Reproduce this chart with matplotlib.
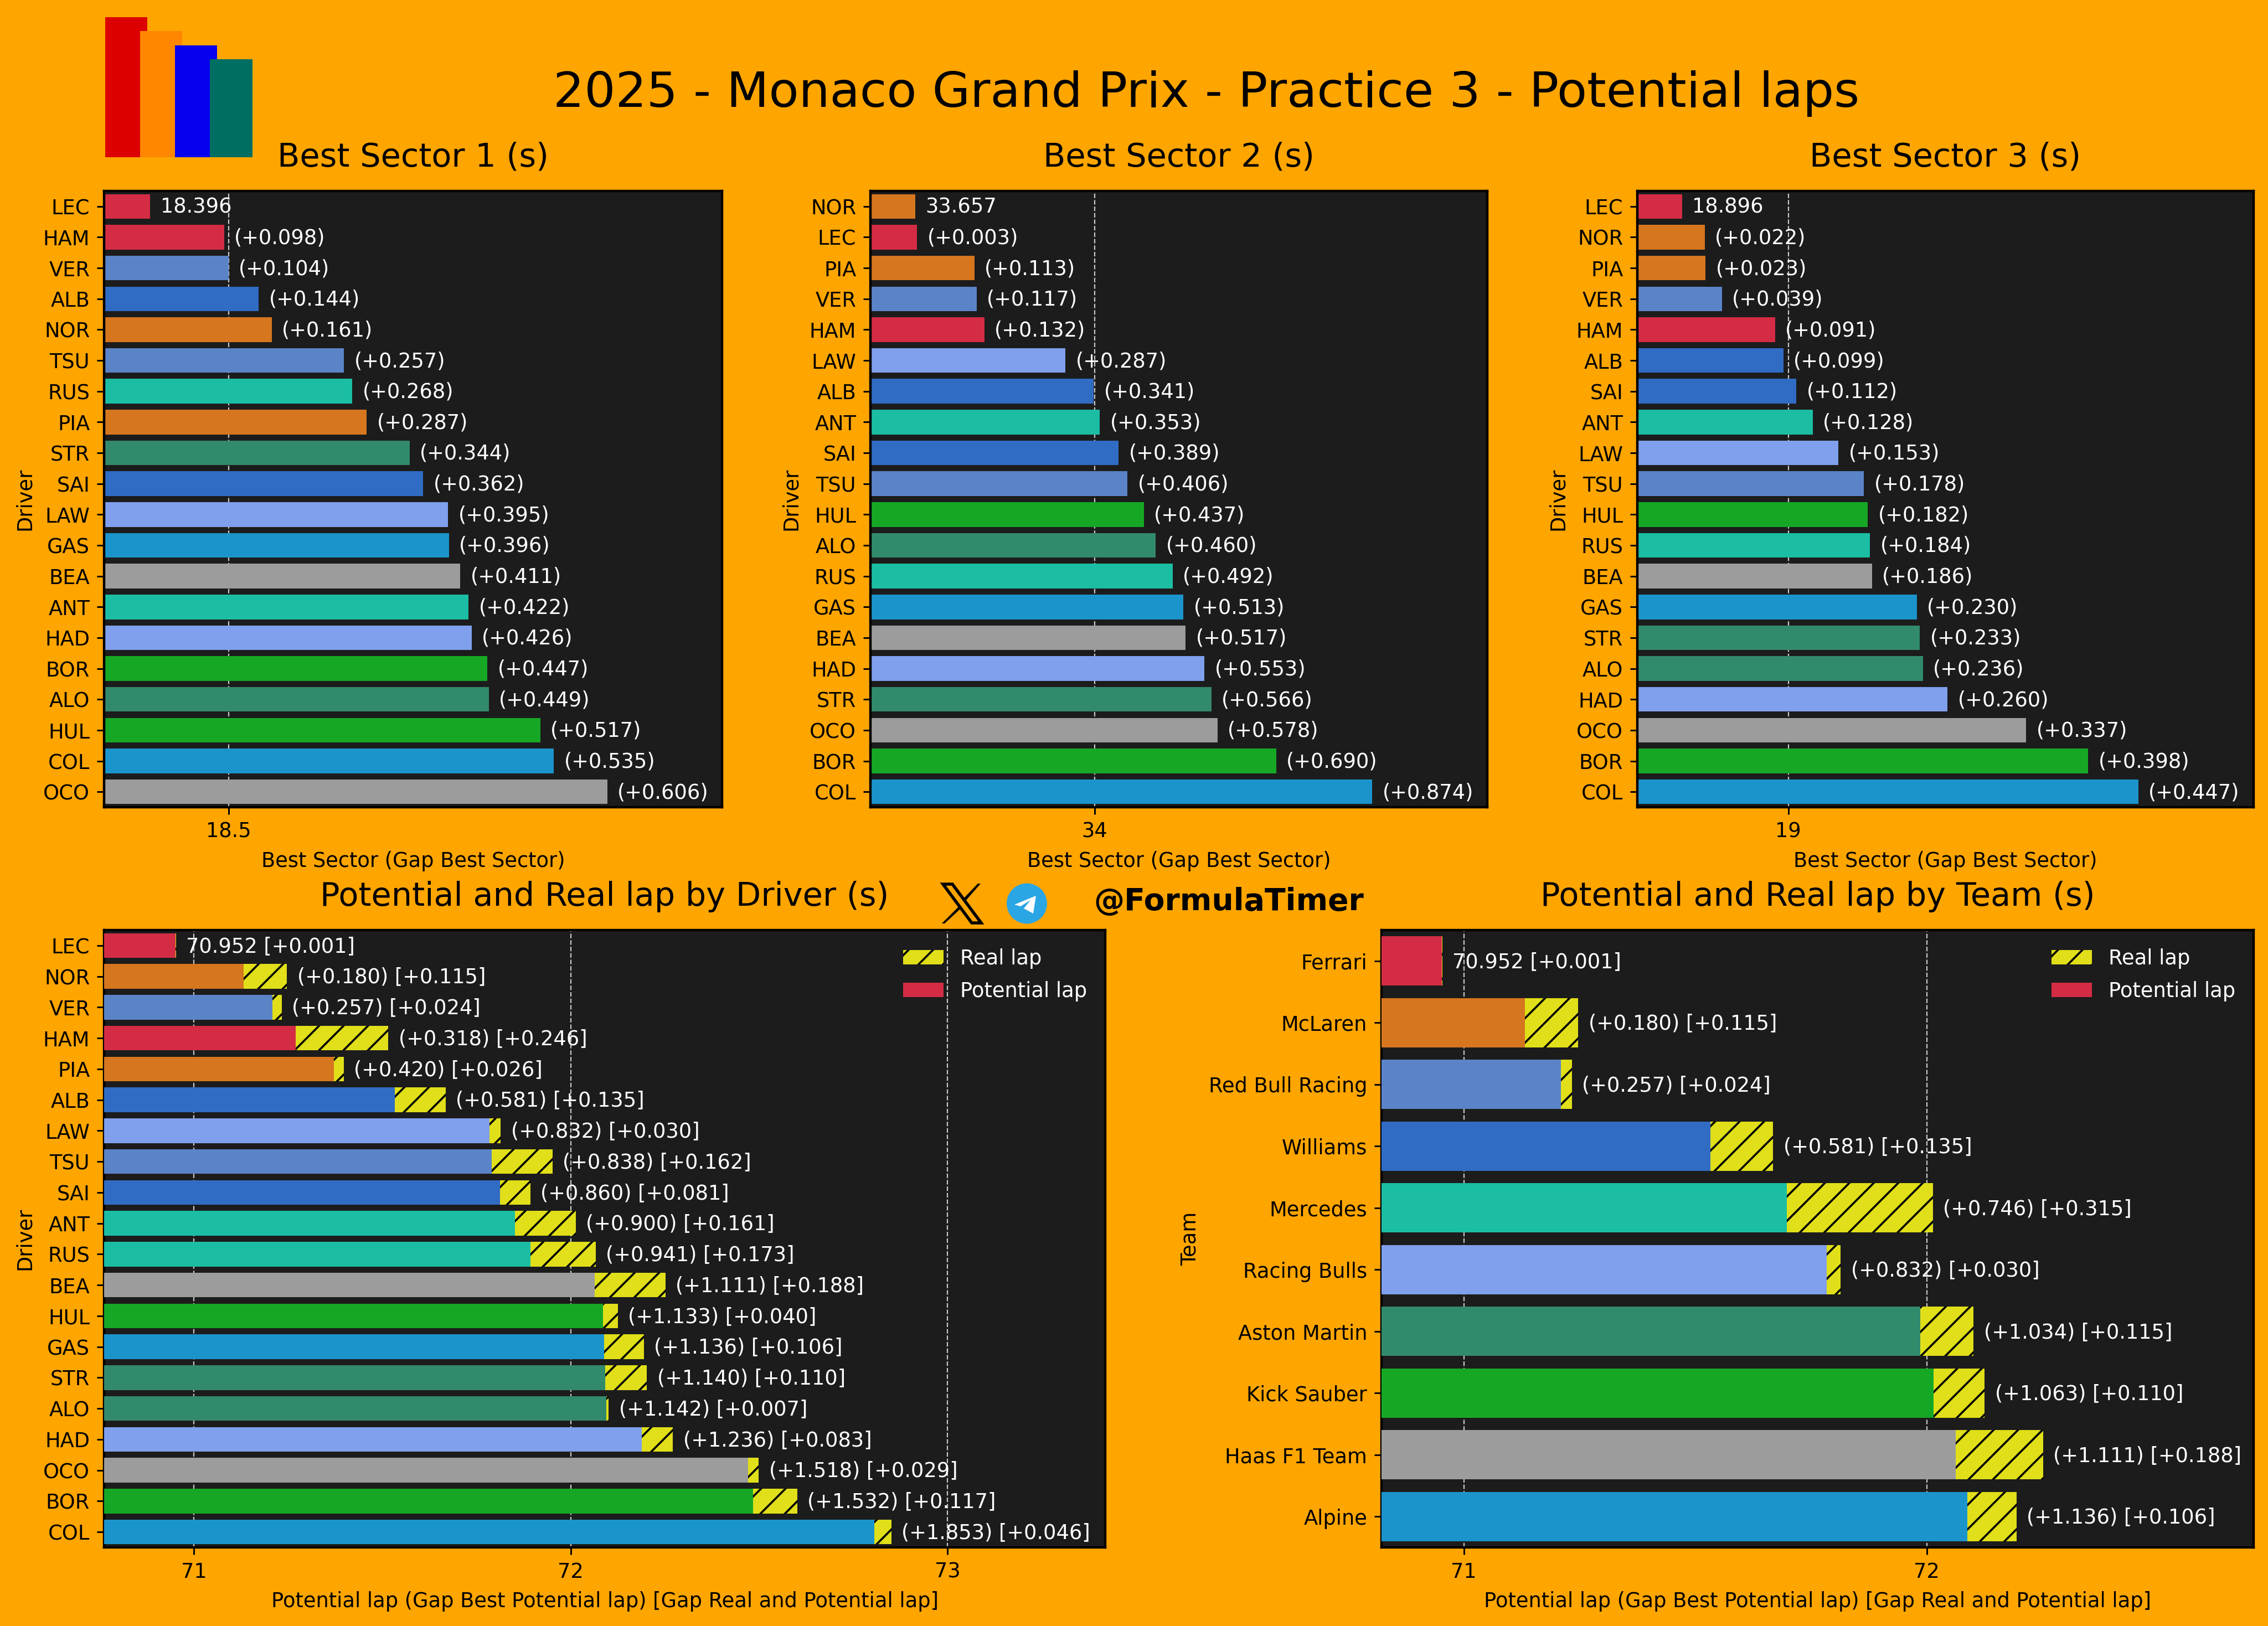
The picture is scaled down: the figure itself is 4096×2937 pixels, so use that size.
import matplotlib
matplotlib.use("Agg")
import matplotlib.pyplot as plt
from matplotlib.patches import Rectangle, Polygon, Circle, Patch

W, H = 4096, 2937
DPI = 265
BG = "#FFA500"
PANEL = "#1C1C1C"
HATCH_COL = "#E0DF19"

TEAM_COLORS = {
    "Ferrari": "#D42C45", "McLaren": "#D6761F", "Red Bull Racing": "#5B84C8",
    "Williams": "#306CC4", "Mercedes": "#1BBEA3", "Racing Bulls": "#809FED",
    "Aston Martin": "#328A6C", "Kick Sauber": "#16A825", "Haas F1 Team": "#9C9C9C",
    "Alpine": "#1B94CC",
}
DRIVER_TEAM = {
    "LEC": "Ferrari", "HAM": "Ferrari", "VER": "Red Bull Racing", "TSU": "Red Bull Racing",
    "ALB": "Williams", "SAI": "Williams", "NOR": "McLaren", "PIA": "McLaren",
    "RUS": "Mercedes", "ANT": "Mercedes", "STR": "Aston Martin", "ALO": "Aston Martin",
    "LAW": "Racing Bulls", "HAD": "Racing Bulls", "GAS": "Alpine", "COL": "Alpine",
    "BEA": "Haas F1 Team", "OCO": "Haas F1 Team", "BOR": "Kick Sauber", "HUL": "Kick Sauber",
}

s1_drivers = ["LEC","HAM","VER","ALB","NOR","TSU","RUS","PIA","STR","SAI","LAW","GAS","BEA","ANT","HAD","BOR","ALO","HUL","COL","OCO"]
s1_gaps = [0,.098,.104,.144,.161,.257,.268,.287,.344,.362,.395,.396,.411,.422,.426,.447,.449,.517,.535,.606]
s1_best = 18.396
s2_drivers = ["NOR","LEC","PIA","VER","HAM","LAW","ALB","ANT","SAI","TSU","HUL","ALO","RUS","GAS","BEA","HAD","STR","OCO","BOR","COL"]
s2_gaps = [0,.003,.113,.117,.132,.287,.341,.353,.389,.406,.437,.460,.492,.513,.517,.553,.566,.578,.690,.874]
s2_best = 33.657
s3_drivers = ["LEC","NOR","PIA","VER","HAM","ALB","SAI","ANT","LAW","TSU","HUL","RUS","BEA","GAS","STR","ALO","HAD","OCO","BOR","COL"]
s3_gaps = [0,.022,.023,.039,.091,.099,.112,.128,.153,.178,.182,.184,.186,.230,.233,.236,.260,.337,.398,.447]
s3_best = 18.896

lap_drivers = ["LEC","NOR","VER","HAM","PIA","ALB","LAW","TSU","SAI","ANT","RUS","BEA","HUL","GAS","STR","ALO","HAD","OCO","BOR","COL"]
lap_gaps = [0,.180,.257,.318,.420,.581,.832,.838,.860,.900,.941,1.111,1.133,1.136,1.140,1.142,1.236,1.518,1.532,1.853]
lap_real = [.001,.115,.024,.246,.026,.135,.030,.162,.081,.161,.173,.188,.040,.106,.110,.007,.083,.029,.117,.046]
lap_best = 70.952

teams = ["Ferrari","McLaren","Red Bull Racing","Williams","Mercedes","Racing Bulls","Aston Martin","Kick Sauber","Haas F1 Team","Alpine"]
team_gaps = [0,.180,.257,.581,.746,.832,1.034,1.063,1.111,1.136]
team_real = [.001,.115,.024,.135,.315,.030,.115,.110,.188,.106]

plt.rcParams["hatch.color"] = "black"
plt.rcParams["hatch.linewidth"] = 1.0
plt.rcParams["font.family"] = "DejaVu Sans"

fig = plt.figure(figsize=(W / DPI, H / DPI), dpi=DPI, facecolor=BG)


def make_axes(x0, x1, y0, y1):
    ax = fig.add_axes([x0 / W, 1 - y1 / H, (x1 - x0) / W, (y1 - y0) / H], facecolor=PANEL)
    for s in ax.spines.values():
        s.set_color("black")
        s.set_linewidth(1.2)
    ax.tick_params(colors="black", labelsize=10)
    ax.grid(axis="x", color="#C8C8C8", linestyle="--", linewidth=0.6, zorder=1)
    ax.set_axisbelow(True)
    return ax


def sector_panel(box, title, drivers, gaps, best, xlim, ticks):
    ax = make_axes(*box)
    vals = [best + g for g in gaps]
    ax.barh(drivers, vals, height=0.8, color=[TEAM_COLORS[DRIVER_TEAM[d]] for d in drivers], zorder=2)
    for i, (v, g) in enumerate(zip(vals, gaps)):
        lab = f"{best:.3f}" if i == 0 else f"(+{g:.3f})"
        ax.annotate(lab, (v, i), xytext=(5, -0.4), textcoords="offset points", color="white",
                    va="center", ha="left", fontsize=10, zorder=5)
    ax.set_xlim(*xlim)
    ax.set_ylim(len(drivers) - 0.5, -0.5)
    ax.set_xticks(ticks)
    ax.set_xticklabels([str(t) for t in ticks])
    ax.set_xlabel("Best Sector (Gap Best Sector)", fontsize=10, labelpad=4.5)
    ax.set_ylabel("Driver", fontsize=10)
    ax.set_title(title, fontsize=16, pad=12)
    return ax


def lap_panel(box, title, names, gaps, real, colors, xlim, ticks, ylabel):
    ax = make_axes(*box)
    pot = [lap_best + g for g in gaps]
    tot = [p + r for p, r in zip(pot, real)]
    ax.barh(names, tot, height=0.8, color=HATCH_COL, hatch="//", zorder=2)
    ax.barh(names, pot, height=0.8, color=colors, zorder=3)
    for i, (t, g, r) in enumerate(zip(tot, gaps, real)):
        lab = f"{lap_best:.3f} [+{r:.3f}]" if i == 0 else f"(+{g:.3f}) [+{r:.3f}]"
        ax.annotate(lab, (t, i), xytext=(5, -0.4), textcoords="offset points", color="white",
                    va="center", ha="left", fontsize=10, zorder=5)
    ax.set_xlim(*xlim)
    ax.set_ylim(len(names) - 0.5, -0.5)
    ax.set_xticks(ticks)
    ax.set_xticklabels([str(t) for t in ticks])
    ax.set_xlabel("Potential lap (Gap Best Potential lap) [Gap Real and Potential lap]", fontsize=10, labelpad=4.5)
    ax.set_ylabel(ylabel, fontsize=10)
    ax.set_title(title, fontsize=16, pad=12)
    handles = [Patch(facecolor=HATCH_COL, hatch="//", label="Real lap"),
               Patch(facecolor=TEAM_COLORS["Ferrari"], label="Potential lap")]
    leg = ax.legend(handles=handles, loc="upper right", frameon=False, fontsize=10, labelcolor="white",
                    labelspacing=0.6)
    leg.set_zorder(6)
    return ax


sector_panel((188, 1304, 345, 1458), "Best Sector 1 (s)", s1_drivers, s1_gaps, s1_best, (18.335, 19.154), [18.5])
sector_panel((1572, 2686, 345, 1458), "Best Sector 2 (s)", s2_drivers, s2_gaps, s2_best, (33.571, 34.751), [34])
sector_panel((2957, 4070, 345, 1458), "Best Sector 3 (s)", s3_drivers, s3_gaps, s3_best, (18.852, 19.456), [19])

lap_panel((188, 1996, 1680, 2795), "Potential and Real lap by Driver (s)", lap_drivers, lap_gaps, lap_real,
          [TEAM_COLORS[DRIVER_TEAM[d]] for d in lap_drivers], (70.762, 73.418), [71, 72, 73], "Driver")
lap_panel((2495, 4070, 1680, 2795), "Potential and Real lap by Team (s)", teams, team_gaps, team_real,
          [TEAM_COLORS[t] for t in teams], (70.822, 72.706), [71, 72], "Team")

fig.text(2179 / W, 1 - 169 / H, "2025 - Monaco Grand Prix - Practice 3 - Potential laps",
         fontsize=24, ha="center", va="center", color="black")
fig.text(2219 / W, 1 - 1629 / H, "@FormulaTimer", fontsize=15, fontweight="bold",
         ha="center", va="center", color="black")

# Overlay in pixel coordinates for logo artwork
ov = fig.add_axes([0, 0, 1, 1], facecolor="none")
ov.set_xlim(0, W)
ov.set_ylim(H, 0)
ov.axis("off")
for x0, x1, y0, c in [(190, 266, 31, "#DD0000"), (253, 329, 56, "#FF8700"),
                      (316, 392, 82, "#0600EF"), (379, 456, 107, "#006F62")]:
    ov.add_patch(Rectangle((x0, y0), x1 - x0, 284 - y0, facecolor=c, edgecolor="none"))

# X logo
ov.add_patch(Polygon([(1703, 1597), (1720, 1597), (1772, 1667), (1755, 1667)], closed=True,
                     facecolor="none", edgecolor="black", linewidth=1.5))
ov.add_patch(Polygon([(1766, 1596), (1771, 1596), (1744, 1627), (1741, 1622)], closed=True, facecolor="black"))
ov.add_patch(Polygon([(1731, 1638), (1734, 1642), (1706, 1668), (1701, 1668)], closed=True, facecolor="black"))
# Telegram logo
ov.add_patch(Circle((1854.5, 1632), 36.5, facecolor="#2AA6E4", edgecolor="none"))
ov.add_patch(Polygon([(1832, 1634), (1871, 1618), (1866, 1650), (1849, 1641), (1861, 1626), (1843, 1637)],
                     closed=True, facecolor="white", edgecolor="none"))

fig.savefig("out.png", dpi=DPI, facecolor=BG)
